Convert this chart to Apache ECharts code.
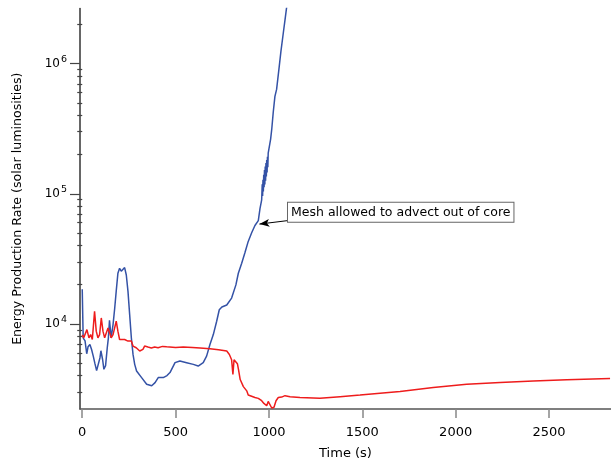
<!DOCTYPE html>
<html>
<head>
<meta charset="utf-8">
<script src="https://cdn.jsdelivr.net/npm/echarts@6/dist/echarts.min.js"></script>
<style>html,body{margin:0;padding:0;background:#fff}#c{width:611px;height:465px}</style>
</head>
<body>
<div id="c"></div>
<script>
// Blue series: time (s) and energy production rate (solar luminosities)
const tBlue = [0, 5, 15, 24, 31, 41, 50, 59, 68, 77, 86, 95, 100, 109, 116, 125, 134, 140, 146, 155, 165, 174, 182, 191, 200, 209, 218, 227, 236, 245, 254, 263, 272, 281, 291, 318, 345, 372, 390, 407, 434, 454, 470, 497, 523, 559, 595, 621, 648, 666, 684, 702, 720, 734, 748, 774, 800, 823, 836, 854, 872, 889, 908, 925, 943, 952, 961, 964, 966, 968, 970, 972, 974, 976, 978, 980, 982, 984, 986, 988, 990, 992, 994, 996, 1009, 1015, 1023, 1032, 1041, 1055, 1064, 1077, 1086, 1097];
const eBlue = [18500, 7820, 7410, 5900, 6670, 6950, 6360, 5660, 4950, 4380, 4230, 5500, 6220, 5330, 4480, 4780, 6560, 7820, 10640, 7820, 9880, 13250, 17870, 24500, 26740, 25390, 25980, 27100, 23770, 17780, 11780, 7820, 5830, 4890, 4350, 3870, 3440, 3350, 3540, 3870, 3870, 4010, 4230, 5040, 5190, 5040, 4890, 4750, 5040, 5660, 6950, 8280, 10490, 12850, 13490, 13970, 15790, 19950, 24500, 29220, 35480, 43040, 50400, 57000, 62230, 76800, 89900, 118000, 96000, 128000, 104000, 140000, 112000, 152000, 118000, 162000, 126000, 172000, 136000, 182000, 146000, 192000, 160000, 205000, 263000, 313300, 422700, 560000, 633400, 948800, 1236000, 1726000, 2168000, 2871000];

// Red series
const tRed = [0, 8, 16, 25, 31, 36, 45, 54, 66, 75, 84, 93, 102, 111, 120, 129, 138, 147, 155, 165, 174, 182, 191, 200, 209, 227, 245, 263, 272, 289, 308, 317, 325, 334, 352, 370, 388, 406, 430, 452, 500, 541, 590, 631, 684, 730, 774, 788, 800, 807, 813, 821, 831, 837, 846, 863, 881, 889, 898, 925, 943, 961, 973, 988, 996, 1006, 1015, 1027, 1038, 1050, 1059, 1068, 1086, 1113, 1166, 1273, 1381, 1488, 1702, 1880, 2059, 2238, 2416, 2595, 2827];
const eRed = [8240, 7820, 7590, 9040, 9320, 7820, 8280, 7590, 12500, 8800, 7820, 8280, 11110, 8800, 7820, 8050, 9320, 8530, 7820, 8280, 8280, 10490, 8800, 7590, 7380, 7590, 7380, 7380, 6760, 6560, 6190, 6340, 6370, 6760, 6640, 6540, 6640, 6560, 6720, 6670, 6590, 6640, 6580, 6530, 6450, 6330, 6190, 5830, 5310, 4100, 5310, 5330, 4950, 4460, 3740, 3300, 3060, 2840, 2890, 2720, 2680, 2570, 2450, 2350, 2540, 2500, 2260, 2290, 2570, 2720, 2650, 2740, 2810, 2760, 2720, 2680, 2760, 2840, 3030, 3250, 3440, 3550, 3650, 3720, 3800];

// Axis ticks
const xTicks = [0, 500, 1000, 1500, 2000, 2500];
const yMajorTicks = [1e4, 1e5, 1e6];
const yMinorTicks = [3000, 4000, 5000, 6000, 7000, 8000, 9000,
  20000, 30000, 40000, 50000, 60000, 70000, 80000, 90000,
  200000, 300000, 400000, 500000, 600000, 700000, 800000, 900000, 2000000];

// Annotation
const noteText = 'Mesh allowed to advect out of core';
const noteBoxAt = [1102, 71950];
const noteArrowFrom = [1102, 62230];
const noteArrowTo = [949, 58480];

const X_MIN = -12, X_MAX = 2832, Y_MIN = 2220, Y_MAX = 2650000;
const FONT = 'DejaVu Sans';

const zip = (a, b) => a.map((v, i) => [v, b[i]]);

const chart = echarts.init(document.getElementById('c'), null, {renderer: 'canvas'});
const yBase = {
  type: 'log', logBase: 10, min: Y_MIN, max: Y_MAX, position: 'left',
  splitLine: {show: false}, minorTick: {show: false}
};
chart.setOption({
  animation: false,
  backgroundColor: '#fff',
  grid: {left: 80, right: 0, top: 8.5, bottom: 52.7},
  xAxis: {
    type: 'value', min: X_MIN, max: X_MAX,
    name: 'Time (s)', nameLocation: 'middle', nameGap: 38,
    nameTextStyle: {fontFamily: FONT, fontSize: 13, color: '#000'},
    axisLine: {show: true, onZero: false, lineStyle: {color: '#555', width: 1.5}},
    axisTick: {show: true, inside: false, length: 9, customValues: xTicks, lineStyle: {color: '#888', width: 1.5}},
    axisLabel: {show: true, customValues: xTicks, margin: 17, formatter: v => String(v),
      fontFamily: FONT, fontSize: 13, color: '#000'},
    splitLine: {show: false}
  },
  yAxis: [
    Object.assign({}, yBase, {
      name: 'Energy Production Rate (solar luminosities)', nameLocation: 'middle', nameGap: 56,
      nameTextStyle: {fontFamily: FONT, fontSize: 12.6, color: '#000'},
      axisLine: {show: true, onZero: false, lineStyle: {color: '#333', width: 1.5}},
      axisTick: {show: true, length: 10, customValues: yMajorTicks, lineStyle: {color: '#444', width: 1.2}},
      axisLabel: {
        show: true, customValues: yMajorTicks, margin: 13,
        formatter: v => '{b|10}{s|' + Math.round(Math.log10(v)) + '}',
        rich: {
          b: {fontFamily: FONT, fontSize: 12, color: '#000'},
          s: {fontFamily: FONT, fontSize: 9.5, color: '#000', verticalAlign: 'bottom', padding: [0, 0, 8, 1]}
        }
      }
    }),
    Object.assign({}, yBase, {
      axisLine: {show: false},
      axisTick: {show: true, length: 5, customValues: yMinorTicks, lineStyle: {color: '#444', width: 1.2}},
      axisLabel: {show: false}
    })
  ],
  series: [
    {
      type: 'line', name: 'blue', data: zip(tBlue, eBlue), showSymbol: false, symbol: 'none',
      lineStyle: {color: '#3452A6', width: 1.5}, clip: true,
      markPoint: {
        silent: true, symbol: 'rect', symbolSize: 0,
        data: [{coord: noteBoxAt}],
        label: {
          show: true, formatter: noteText, position: 'right', distance: 0,
          fontFamily: FONT, fontSize: 12.5, color: '#000',
          backgroundColor: '#fff', borderColor: '#666', borderWidth: 1, padding: [3, 3, 3, 3]
        }
      },
      markLine: {
        silent: true, symbol: ['none', 'arrow'], symbolSize: [6, 10],
        label: {show: false},
        lineStyle: {color: '#000', width: 1, type: 'solid'},
        emphasis: {disabled: true},
        data: [[{coord: noteArrowFrom}, {coord: noteArrowTo}]]
      }
    },
    {
      type: 'line', name: 'red', data: zip(tRed, eRed), showSymbol: false, symbol: 'none',
      lineStyle: {color: '#EE1C1C', width: 1.5}, clip: true
    }
  ]
});
</script>
</body>
</html>
